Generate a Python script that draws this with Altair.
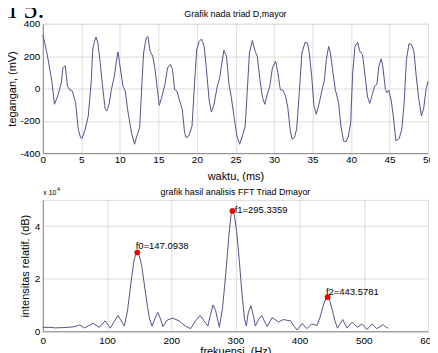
import altair as alt
import pandas as pd

# ---- top panel: waveform (time in ms, voltage in mV) ----
t_ms = [0.0, 0.53, 1.17, 1.51, 2.0, 2.4, 2.6, 2.9, 3.2, 3.5,
        3.83, 4.25, 4.6, 4.9, 5.1, 5.5, 5.9, 6.3, 6.47, 6.7,
        6.9, 7.15, 7.45, 7.75, 8.1, 8.3, 8.6, 8.9, 9.25, 9.55,
        9.75, 9.96, 10.4, 10.7, 11.0, 11.5, 11.9, 12.2, 12.57, 12.87,
        13.08, 13.42, 13.63, 13.93, 14.27, 14.57, 14.87, 15.12, 15.42, 15.85,
        16.19, 16.57, 16.83, 17.1, 17.4, 17.76, 18.1, 18.4, 18.6, 18.95,
        19.37, 19.67, 19.97, 20.3, 20.6, 20.94, 21.24, 21.58, 21.88, 22.22,
        22.65, 22.95, 23.5, 23.84, 24.0, 24.14, 24.44, 24.87, 25.2, 25.55,
        25.97, 26.27, 26.57, 26.82, 27.2, 27.55, 27.84, 28.18, 28.52, 28.82,
        29.12, 29.46, 29.8, 30.22, 30.52, 30.82, 31.16, 31.5, 31.8, 32.1,
        32.35, 32.65, 32.95, 33.29, 33.63, 34.05, 34.35, 34.56, 34.9, 35.2,
        35.5, 35.84, 36.27, 36.55, 36.8, 37.1, 37.33, 37.67, 37.96, 38.39,
        38.69, 39.03, 39.37, 39.67, 39.96, 40.22, 40.52, 40.86, 41.15, 41.5,
        41.79, 42.13, 42.43, 42.77, 43.07, 43.37, 43.62, 43.92, 44.13, 44.47,
        44.68, 44.9, 45.2, 45.49, 45.83, 46.26, 46.6, 46.9, 47.2, 47.53,
        47.87, 48.17, 48.47, 48.81, 49.15, 49.45, 49.75, 50.0]
v_mv = [332, 220, 45, -98, -37, 35, 127, 141, 14, -10,
        -16, -88, -252, -304, -308, -252, -170, 55, 240, 291,
        318, 281, 158, 14, -129, -140, -98, -6, 66, 168,
        226, 158, 14, -16, -129, -273, -345, -295, -242, 35,
        220, 312, 322, 230, 199, 117, -6, -105, -57, 25,
        127, 148, 117, -6, -16, -78, -129, -273, -304, -294,
        -232, 14, 240, 291, 306, 260, 117, -68, -146, -98,
        14, 66, 236, 199, 117, 35, -47, -191, -294, -345,
        -283, -232, 14, 220, 297, 230, 199, 55, -57, -98,
        -37, 14, 127, 168, 96, -6, -10, -47, -119, -252,
        -314, -304, -252, -27, 220, 285, 281, 230, 76, -109,
        -160, -98, -6, 50, 178, 260, 220, 96, -6, -88,
        -232, -324, -330, -294, -211, 96, 260, 285, 230, 209,
        96, -47, -92, -37, 14, 25, 137, 183, 137, -6,
        -27, -10, -68, -170, -324, -310, -252, -88, 178, 277,
        271, 230, 76, -68, -170, -119, -6, 45]

# ---- bottom panel: FFT (frequency in Hz, intensity in units of 1e4) ----
freq_hz = [0, 10, 20, 30, 40, 50, 57, 65, 78, 88,
           97, 105, 117, 127, 132, 137, 142, 145, 147.0938, 150,
           154, 158, 162, 166, 170, 175, 179, 183, 187, 194,
           202, 212, 222, 230, 238, 245, 251, 257, 261, 265,
           269, 275, 280, 285, 290, 293, 295.3359, 298, 302, 306,
           310, 314, 317, 320, 324, 328, 331, 336, 341, 345,
           349.5, 357, 362, 367, 375, 380, 386, 391, 396, 404,
           411, 419, 427, 432, 437, 441, 443.5781, 447, 451, 455,
           459, 467, 474, 482, 490, 497, 505, 513, 520, 530,
           535, 538]
amp_e4 = [0.15, 0.15, 0.13, 0.14, 0.15, 0.18, 0.24, 0.13, 0.30, 0.15,
          0.40, 0.12, 0.60, 0.20, 0.8, 1.8, 2.7, 2.95, 3.0, 2.9,
          2.5, 1.8, 1.1, 0.5, 0.2, 0.5, 0.72, 0.5, 0.18, 0.43,
          0.5, 0.4, 0.2, 0.1, 0.4, 0.6, 0.4, 0.2, 0.6, 1.0,
          0.8, 0.15, 0.9, 2.2, 3.7, 4.4, 4.58, 4.45, 3.8, 2.7,
          1.5, 0.5, 0.2, 0.7, 0.98, 0.6, 0.2, 0.45, 0.6, 0.4,
          0.18, 0.52, 0.45, 0.35, 0.45, 0.42, 0.4, 0.2, 0.05, 0.3,
          0.1, 0.28, 0.22, 0.55, 1.0, 1.25, 1.3, 1.15, 0.8, 0.4,
          0.12, 0.45, 0.12, 0.35, 0.15, 0.28, 0.07, 0.28, 0.1, 0.25,
          0.15, 0.12]

peak_f = [147.0938, 295.3359, 443.5781]
peak_a = [3.0, 4.58, 1.3]
peak_labels = ["f0=147.0938", "f1=295.3359", "f2=443.5781"]

x_ticks_top = [0, 5, 10, 15, 20, 25, 30, 35, 40, 45, 50]
y_ticks_top = [-400, -200, 0, 200, 400]
x_ticks_bot = [0, 100, 200, 300, 400, 500, 600]
y_ticks_bot = [0, 1, 2, 3, 4, 5]

title_top = "Grafik nada triad D,mayor"
title_bot = "grafik hasil analisis FFT Triad Dmayor"
doc_fragment = "al 5."

FONT = "Liberation Sans"
LINE = "#52528a"
W = 387

wave = pd.DataFrame({"t": t_ms, "v": v_mv})
fft = pd.DataFrame({"f": freq_hz, "a": amp_e4})
peaks = pd.DataFrame({"f": peak_f, "a": peak_a, "lab": peak_labels})
one = pd.DataFrame({"k": [0]})

xs_top = alt.Scale(domain=[0, 50], nice=False)
ys_top = alt.Scale(domain=[-400, 400], nice=False)
xs_bot = alt.Scale(domain=[0, 600], nice=False)
ys_bot = alt.Scale(domain=[0, 5], nice=False)


def txt(s, x, y, size=9, align="left", font=FONT, baseline="middle"):
    return alt.Chart(pd.DataFrame({"s": [s]})).mark_text(
        font=font, fontSize=size, align=align, baseline=baseline, color="black"
    ).encode(text="s:N", x=alt.value(x), y=alt.value(y))


def anchor(x, y):
    return alt.Chart(one).mark_rect(opacity=0).encode(
        x=alt.value(x), x2=alt.value(x + 1), y=alt.value(y), y2=alt.value(y + 1))


def axis(values, title, lp, tp, is_y=False):
    kw = dict(values=values, title=title, labelOverlap=False, labelPadding=lp,
              titlePadding=tp, titleFontWeight="normal", ticks=True, tickSize=0,
              tickOpacity=0)
    if is_y:
        kw["labelExpr"] = "toString(datum.value)"
    else:
        kw["labelFlush"] = False
    return alt.Axis(**kw)


top_line = alt.Chart(wave).mark_line(color=LINE, strokeWidth=1).encode(
    x=alt.X("t:Q", scale=xs_top, axis=axis(x_ticks_top, "waktu,  (ms)", 1, 6)),
    y=alt.Y("v:Q", scale=ys_top, axis=axis(y_ticks_top, "tegangan,  (mV)", 3, 2, True)),
)

top = alt.layer(
    top_line,
    txt(doc_fragment, -46.5, -6, size=28, font="Liberation Serif", baseline="alphabetic"),
    txt(title_top, W / 2, -9.3, size=9, align="center"),
    anchor(-60, -40),
    anchor(W + 19, 0),
).properties(width=W, height=130)

bot_line = alt.Chart(fft).mark_line(color=LINE, strokeWidth=1).encode(
    x=alt.X("f:Q", scale=xs_bot, axis=axis(x_ticks_bot, "frekuensi.  (Hz)", 4, 0)),
    y=alt.Y("a:Q", scale=ys_bot,
            axis=axis(y_ticks_bot, "intensitas relatif.  (dB)", 3, 4, True)),
)

bot_pts = alt.Chart(peaks).mark_circle(color="#ff0000", size=28, opacity=1,
                                        stroke="#b00000", strokeWidth=0.5).encode(
    x=alt.X("f:Q", scale=xs_bot), y=alt.Y("a:Q", scale=ys_bot))

offsets = [(-1.6, -6.5), (2.3, -1.4), (-1.7, -4.7)]
label_layers = []
for i, (dx, dy) in enumerate(offsets):
    label_layers.append(
        alt.Chart(peaks.iloc[[i]]).mark_text(
            align="left", baseline="middle", dx=dx, dy=dy,
            font=FONT, fontSize=9.5, color="black"
        ).encode(x=alt.X("f:Q", scale=xs_bot), y=alt.Y("a:Q", scale=ys_bot), text="lab:N")
    )

bottom = alt.layer(
    bot_line, bot_pts, *label_layers,
    txt("x 10", 0.5, -7, size=7),
    txt("4", 14.3, -10.5, size=5.5),
    txt(title_bot, W / 2, -8.3, size=9, align="center"),
).properties(width=W, height=132)

chart = alt.vconcat(top, bottom, spacing=47, bounds="flush").properties(
    padding={"left": -26, "top": -26, "right": -19, "bottom": 0}
).configure_view(
    stroke="#555555", strokeWidth=1
).configure_axis(
    labelFont=FONT, titleFont=FONT, labelFontSize=9, titleFontSize=9,
    titleFontWeight="normal", labelColor="black", titleColor="black",
    domain=False, grid=True, gridColor="#b8b8b8",
    gridDash=[1, 2], gridWidth=1
).configure(background="white")

chart.save("out.html", embed_options={"renderer": "svg", "actions": False})
